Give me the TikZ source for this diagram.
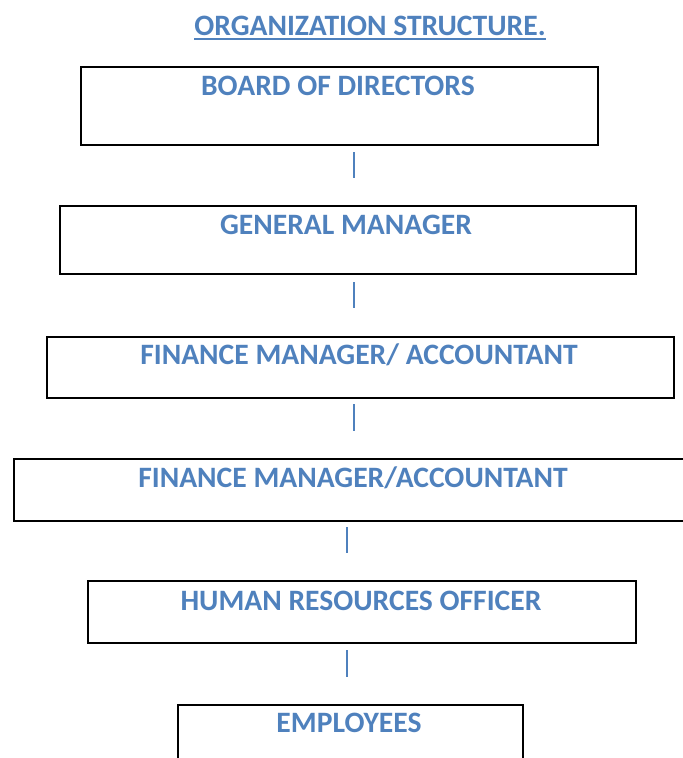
\documentclass[tikz,border=0pt]{standalone}
\usepackage{fontspec}
\setmainfont{Carlito}
\definecolor{hblue}{HTML}{4F81BD}
\begin{document}
\begin{tikzpicture}[x=1pt,y=-1pt,
  orgbox/.style={draw=black, line width=2pt, minimum height=#1, inner sep=0pt, anchor=north west},
  boxtext/.style={text=hblue, font=\bfseries\fontsize{29.6}{34}\selectfont, inner sep=0pt},
  link/.style={draw=hblue, line width=1.4pt}]
\useasboundingbox (0,0) rectangle (683,758);
\clip (0,0) rectangle (683,758);
% title
\node[text=hblue, font=\bfseries\fontsize{29.6}{34}\selectfont, inner sep=0pt] (title) at (370,26) {ORGANIZATION STRUCTURE.};
\draw[hblue, line width=1.8pt] (title.south west |- 0,39) -- (title.south east |- 0,39);
% boxes
\node[orgbox=78pt, minimum width=517pt] (b1) at (80,66) {};
\node[orgbox=68pt, minimum width=576pt] (b2) at (59,205) {};
\node[orgbox=61pt, minimum width=627pt] (b3) at (46,336) {};
\node[orgbox=62pt, minimum width=680pt] (b4) at (13,458) {};
\node[orgbox=62pt, minimum width=548pt] (b5) at (87,580) {};
\node[orgbox=70pt, minimum width=345pt] (b6) at (177,704) {};
% texts
\node[boxtext] (t1) at (338,86) {BOARD OF DIRECTORS};
\node[boxtext] (t2) at (346,225) {GENERAL MANAGER};
\node[boxtext] (t3) at (359,355) {FINANCE MANAGER/ ACCOUNTANT};
\node[boxtext] (t4) at (353,478) {FINANCE MANAGER/ACCOUNTANT};
\node[boxtext] (t5) at (361,601) {HUMAN RESOURCES OFFICER};
\node[boxtext] (t6) at (349,723) {EMPLOYEES};
% connectors
\coordinate (c1a) at (354,152); \coordinate (c1b) at (354,178);
\coordinate (c2a) at (354,282); \coordinate (c2b) at (354,308);
\coordinate (c3a) at (354,404); \coordinate (c3b) at (354,431);
\coordinate (c4a) at (347,527); \coordinate (c4b) at (347,553);
\coordinate (c5a) at (347,650); \coordinate (c5b) at (347,677);
\draw[link] (c1a) -- (c1b);
\draw[link] (c2a) -- (c2b);
\draw[link] (c3a) -- (c3b);
\draw[link] (c4a) -- (c4b);
\draw[link] (c5a) -- (c5b);
\end{tikzpicture}
\end{document}
